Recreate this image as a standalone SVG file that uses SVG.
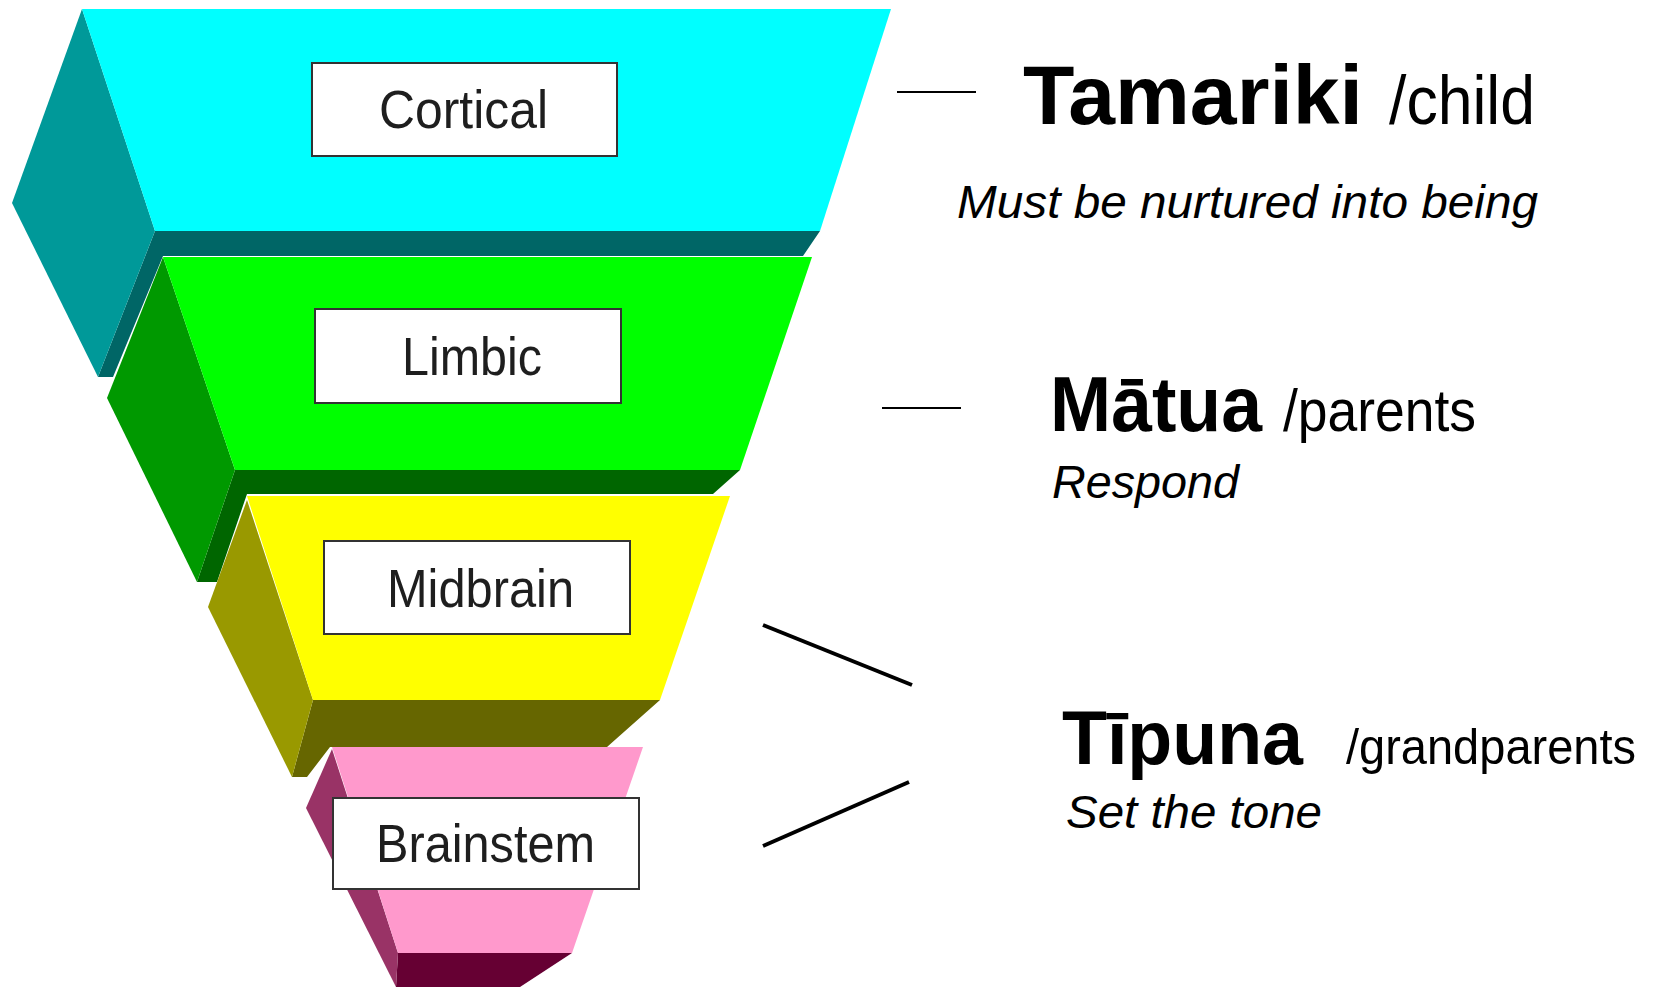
<svg xmlns="http://www.w3.org/2000/svg" width="1662" height="987" viewBox="0 0 1662 987">
<style>
.box{fill:#ffffff;stroke:#333333;stroke-width:2}
.lbl{font-family:"Liberation Sans Narrow","Liberation Sans",Arial,sans-serif;font-size:54px;fill:#1e1e1e}
.big{font-family:"Liberation Sans",Arial,sans-serif;font-weight:bold;fill:#000}
.reg{font-family:"Liberation Sans",Arial,sans-serif;fill:#000}
.it{font-family:"Liberation Sans",Arial,sans-serif;font-style:italic;font-size:46px;fill:#000}
.thin{stroke:#000;stroke-width:2;fill:none}
.thick{stroke:#000;stroke-width:4;fill:none}
</style>
<rect width="1662" height="987" fill="#ffffff"/>
<g id="cortical">
<polygon points="155,231 820,231 803,256 163,256 113,377 98,377" fill="#006666"/>
<polygon points="82,9 12,203 98,377 155,231" fill="#009999"/>
<polygon points="82,9 891,9 820,231 155,231" fill="#00ffff"/>
<rect class="box" x="312" y="63" width="305" height="93"/>
<text class="lbl" x="379" y="128" textLength="169" lengthAdjust="spacingAndGlyphs">Cortical</text>
</g>
<g id="limbic">
<polygon points="235,470 740,470 713,494 247,494 217,582 197,582" fill="#006600"/>
<polygon points="163,257 107,398 197,582 235,470" fill="#009900"/>
<polygon points="163,257 812,257 740,470 235,470" fill="#00ff00"/>
<rect class="box" x="315" y="309" width="306" height="94"/>
<text class="lbl" x="402" y="375" textLength="140" lengthAdjust="spacingAndGlyphs">Limbic</text>
</g>
<g id="midbrain">
<polygon points="313,700 660,700 607,747 330,747 307,777 292,777" fill="#666600"/>
<polygon points="247,500 208,607 292,777 313,700" fill="#999900"/>
<polygon points="247,496 730,496 660,700 313,700" fill="#ffff00"/>
<rect class="box" x="324" y="541" width="306" height="93"/>
<text class="lbl" x="387" y="607" textLength="187" lengthAdjust="spacingAndGlyphs">Midbrain</text>
</g>
<g id="brainstem">
<polygon points="398,953 572,953 520,987 396,987" fill="#660033"/>
<polygon points="332,749 306,808 396,987 398,953" fill="#993366"/>
<polygon points="332,747 643,747 572,953 398,953" fill="#ff99cc"/>
<rect class="box" x="333" y="798" width="306" height="91"/>
<text class="lbl" x="376" y="862" textLength="219" lengthAdjust="spacingAndGlyphs">Brainstem</text>
</g>
<g id="connectors">
<line class="thin" x1="897" y1="92" x2="976" y2="92"/>
<line class="thin" x1="882" y1="408" x2="961" y2="408"/>
<line class="thick" x1="763" y1="625" x2="912" y2="685"/>
<line class="thick" x1="763" y1="846" x2="909" y2="782"/>
</g>
<g id="tamariki">
<text class="big" x="1023" y="124" font-size="84" textLength="340" lengthAdjust="spacingAndGlyphs">Tamariki</text>
<text class="reg" x="1389" y="124" font-size="68" textLength="146" lengthAdjust="spacingAndGlyphs">/child</text>
<text class="it" x="957" y="218" textLength="581" lengthAdjust="spacingAndGlyphs">Must be nurtured into being</text>
</g>
<g id="matua">
<text class="big" x="1050" y="431" font-size="78" textLength="212" lengthAdjust="spacingAndGlyphs">Mātua</text>
<text class="reg" x="1283" y="431" font-size="60" textLength="193" lengthAdjust="spacingAndGlyphs">/parents</text>
<text class="it" x="1052" y="498" textLength="187" lengthAdjust="spacingAndGlyphs">Respond</text>
</g>
<g id="tipuna">
<text class="big" x="1062" y="764" font-size="76" textLength="241" lengthAdjust="spacingAndGlyphs">Tīpuna</text>
<text class="reg" x="1346" y="764" font-size="50" textLength="290" lengthAdjust="spacingAndGlyphs">/grandparents</text>
<text class="it" x="1066" y="828" textLength="256" lengthAdjust="spacingAndGlyphs">Set the tone</text>
</g>
</svg>
